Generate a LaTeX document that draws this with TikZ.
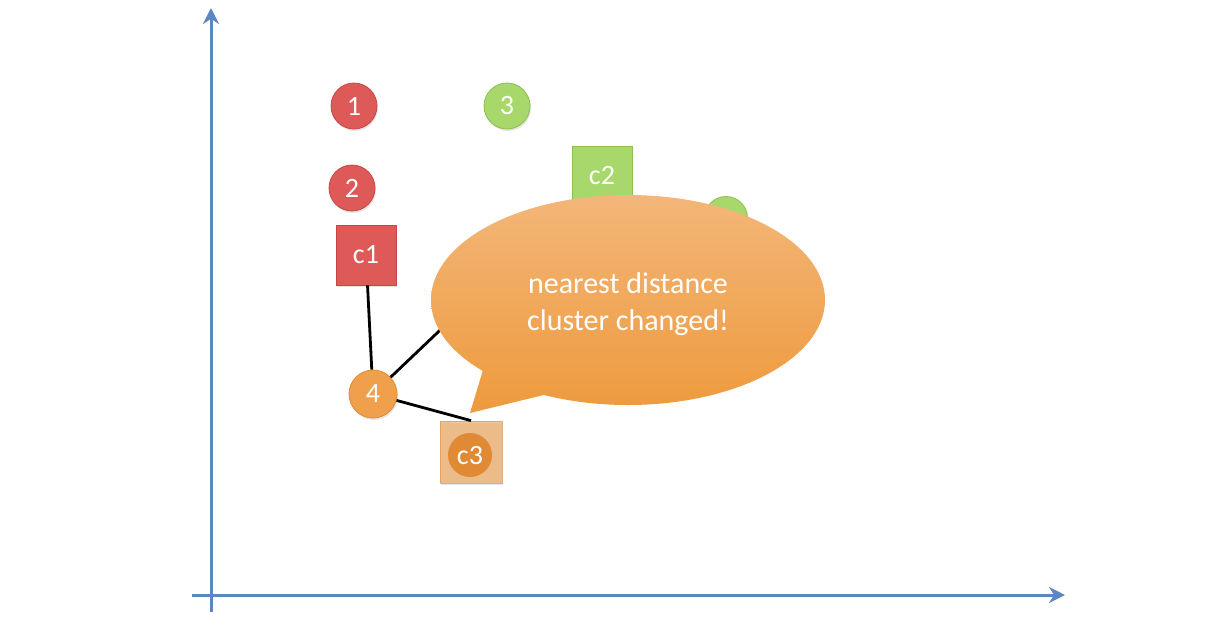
\documentclass[tikz,border=0pt]{standalone}
\usepackage{fontspec}
\setmainfont{Carlito}
\usetikzlibrary{arrows.meta,shadows}
\definecolor{axisblue}{HTML}{5B88C0}
\definecolor{redfill}{HTML}{DD5A58}
\definecolor{redline}{HTML}{C84744}
\definecolor{greenfill}{HTML}{A8D86C}
\definecolor{greenline}{HTML}{8CBF4E}
\definecolor{orangefill}{HTML}{F0A04C}
\definecolor{orangeline}{HTML}{E08A35}
\definecolor{calltop}{HTML}{F3B679}
\definecolor{callbot}{HTML}{EE9A3C}
\tikzset{
  pt/.style={circle, minimum size=46pt, inner sep=0pt, text=white, font=\fontsize{28}{32}\selectfont, line width=0.8pt, drop shadow={opacity=0.2, shadow xshift=1pt, shadow yshift=-2pt}},
  redpt/.style={pt, fill=redfill, draw=redline},
  greenpt/.style={pt, fill=greenfill, draw=greenline},
  orangept/.style={pt, fill=orangefill, draw=orangeline, minimum size=48pt},
  cen/.style={rectangle, minimum size=60pt, inner sep=0pt, text=white, font=\fontsize{28}{32}\selectfont, line width=0.8pt, drop shadow={opacity=0.2, shadow xshift=1pt, shadow yshift=-2pt}},
  link/.style={line width=2.8pt, black},
  axis/.style={line width=3pt, axisblue, -{Stealth[length=16pt,width=16pt]}}
}
\begin{document}
\begin{tikzpicture}[x=1pt,y=-1pt]
\useasboundingbox (0,0) rectangle (1209,638);
\fill[white] (0,0) rectangle (1209,638);
% axes
\coordinate (yb) at (211,612);
\coordinate (yt) at (211,8);
\coordinate (xl) at (192,595);
\coordinate (xr) at (1065,595);
\draw[axis] (yb) -- (yt);
\draw[axis] (xl) -- (xr);
% points
\node[redpt] (p1) at (354,106) {1};
\node[redpt] (p2) at (352,188) {2};
\node[greenpt] (p3) at (507,106) {3};
\node[greenpt, minimum size=43pt] (p5) at (726,218) {};
\node[orangept] (p4) at (373,394) {4};
% centroids
\node[cen, fill=redfill, draw=redline] (c1) at (366,255) {c1};
\node[cen, fill=greenfill, draw=greenline] (c2) at (602,176) {c2};
\node[cen, fill=orangefill, fill opacity=0.6, draw=orangeline, draw opacity=0.6, minimum size=62pt] (c3) at (471,452) {};
\node[circle, minimum size=44pt, inner sep=0pt, fill=orangeline, text=white, font=\fontsize{28}{32}\selectfont] (c3in) at (470,455) {c3};
% links
\draw[link] (c1) -- (p4);
\draw[link] (p4) -- (c2);
\draw[link] (p4) -- (c3.north);
% callout
\shade[top color=calltop, bottom color=callbot, nonzero rule]
  (628,300) ellipse [x radius=197, y radius=105]
  (560,391) -- (470,413) -- (486,360) -- cycle;
\node[text=white, align=center, font=\fontsize{30}{37}\selectfont] (msg) at (628,304) {nearest distance\\cluster changed!};
\end{tikzpicture}
\end{document}
